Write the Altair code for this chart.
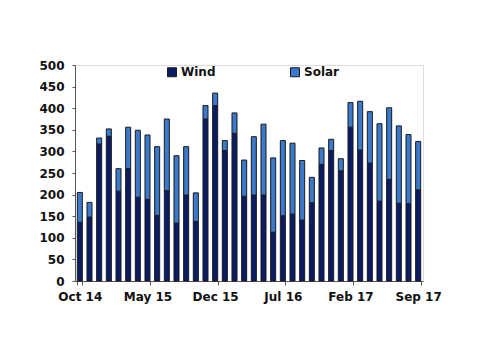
import altair as alt
import pandas as pd

months = ["Oct 14", "Nov 14", "Dec 14", "Jan 15", "Feb 15", "Mar 15", "Apr 15", "May 15",
          "Jun 15", "Jul 15", "Aug 15", "Sep 15", "Oct 15", "Nov 15", "Dec 15", "Jan 16",
          "Feb 16", "Mar 16", "Apr 16", "May 16", "Jun 16", "Jul 16", "Aug 16", "Sep 16",
          "Oct 16", "Nov 16", "Dec 16", "Jan 17", "Feb 17", "Mar 17", "Apr 17", "May 17",
          "Jun 17", "Jul 17", "Aug 17", "Sep 17"]
wind = [136, 148, 317, 335, 208, 260, 194, 189, 152, 209, 134, 199, 138, 375, 406, 302,
        342, 196, 199, 199, 113, 151, 155, 141, 181, 270, 302, 255, 356, 303, 273, 185,
        235, 180, 179, 211]
solar = [69, 34, 14, 17, 52, 96, 155, 149, 159, 166, 156, 112, 66, 31, 29, 23,
         47, 84, 135, 164, 172, 174, 164, 138, 59, 38, 26, 28, 57, 113, 119, 179,
         166, 179, 160, 112]
series = ["Wind", "Solar"]
tick_labels = ["Oct 14", "May 15", "Dec 15", "Jul 16", "Feb 17", "Sep 17"]

rows = []
for m, w, s in zip(months, wind, solar):
    rows.append({"month": m, "series": "Wind", "value": w, "ord": 0})
    rows.append({"month": m, "series": "Solar", "value": s, "ord": 1})
df = pd.DataFrame(rows)

font = "DejaVu Sans"

chart = alt.Chart(df).mark_bar(stroke="#1a1a1a", strokeWidth=1).encode(
    x=alt.X("month:N", sort=months,
            scale=alt.Scale(paddingInner=0.48, paddingOuter=0.24),
            axis=alt.Axis(title=None, values=tick_labels, labelAngle=0, tickBand="extent",
                          tickSize=4, tickColor="#555555", domainColor="#555555",
                          labelPadding=6, labelFont=font, labelFontSize=12,
                          labelFontWeight="bold", labelColor="#111111")),
    y=alt.Y("value:Q", stack="zero",
            scale=alt.Scale(domain=[0, 500], nice=False),
            axis=alt.Axis(title=None, values=list(range(0, 501, 50)), grid=False,
                          tickSize=3, tickColor="#555555", domainColor="#555555",
                          labelPadding=8, labelFont=font, labelFontSize=12,
                          labelFontWeight="bold", labelColor="#111111")),
    color=alt.Color("series:N", sort=series,
                    scale=alt.Scale(domain=series, range=["#0b1c64", "#3b79cc"]),
                    legend=alt.Legend(title=None, orient="none", legendX=91, legendY=1,
                                      direction="horizontal", symbolType="square",
                                      symbolSize=81, symbolStrokeColor="#1a1a1a",
                                      symbolStrokeWidth=1, columnPadding=72,
                                      labelFont=font, labelFontSize=12,
                                      labelFontWeight="bold", labelColor="#111111",
                                      labelOffset=3)),
    order=alt.Order("ord:Q"),
).properties(
    width=348, height=216,
    autosize=alt.AutoSizeParams(type="none"),
    padding={"left": 75, "top": 65, "right": 77, "bottom": 73},
).configure_view(stroke=None).configure(background="white")

chart.save("out.html", embed_options={"renderer": "svg", "actions": False})
